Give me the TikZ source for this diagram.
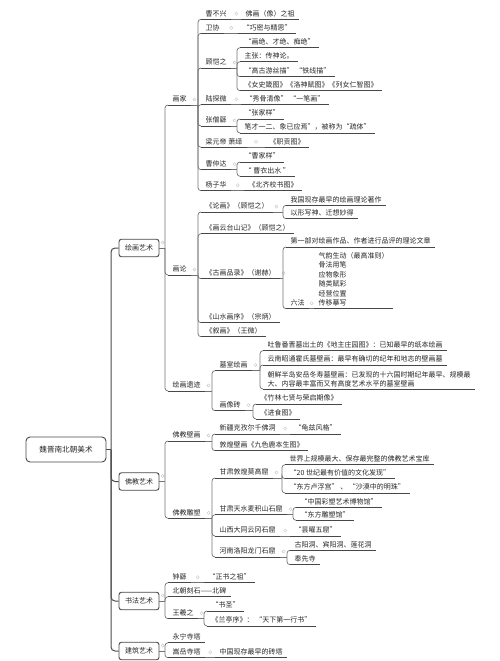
\documentclass[tikz,border=0pt]{standalone}
\usepackage{fontspec}
\setmainfont{Noto Sans CJK SC}
\usetikzlibrary{calc}
\newcommand\fanout[3]{%
  \draw[con] (#1) -- (#2,0 |- #1);
  \draw[dotc] ([shift={(3.2,-5.5)}]#1) circle[radius=1.6];
  \foreach \ch in {#3}{\draw[con] (#2,0 |- #1) |- (\ch.south west);}
}
\newcommand\single[2]{%
  \draw[con] (#1.south east) -- (#2.south west);
  \draw[dotc] ($(#1.south east)!0.5!(#2.south west)+(0,-5.5)$) circle[radius=1.6];
}
\begin{document}
\begin{tikzpicture}[x=1pt,y=-1pt,
  uline/.style={draw=black!72,line width=0.8pt},
  t/.style={font=\fontsize{7}{8.5}\selectfont,text=black!85,inner xsep=4.5pt,inner ysep=2pt,
    text height=5.6pt,text depth=1pt,anchor=south west,
    append after command={(\tikzlastnode.south west) edge[uline] (\tikzlastnode.south east)}},
  tm/.style={font=\fontsize{7}{#1}\selectfont,text=black!85,inner xsep=4.5pt,inner ysep=2pt,
    align=left,anchor=south west,
    append after command={(\tikzlastnode.south west) edge[uline] (\tikzlastnode.south east)}},
  con/.style={draw=black!55,line width=0.7pt,rounded corners=3pt},
  rootcon/.style={draw=black!70,line width=1pt,rounded corners=4pt},
  dotc/.style={draw=black!22,line width=0.4pt},
  box/.style={draw=black!72,line width=0.9pt,rounded corners=2.5pt,font=\fontsize{7}{8}\selectfont,
    text=black!85,minimum width=40pt,minimum height=17.5pt,inner sep=0pt},
  rootbox/.style={draw=black!72,line width=0.9pt,rounded corners=4pt,font=\fontsize{7.6}{9}\selectfont,
    text=black!85,minimum width=80pt,minimum height=25pt,inner sep=0pt},
]
\useasboundingbox (0,0) rectangle (500,661);

% root and level 1
\node[rootbox] (root) at (66,449.5) {魏晋南北朝美术};
\node[box] (L1) at (139,248) {绘画艺术};
\node[box] (L2) at (139,481.5) {佛教艺术};
\node[box] (L3) at (139,601) {书法艺术};
\node[box] (L4) at (139,651) {建筑艺术};

% level 2
\node[t] (p1) at (168,105) {画家};
\node[t] (p2) at (168,275) {画论};
\node[t] (p3) at (168,391) {绘画遗迹};
\node[t] (q1) at (168,441) {佛教壁画};
\node[t] (q2) at (168,518.3) {佛教雕塑};
\node[t] (f1) at (168,582.7) {钟繇};
\node[t] (f2) at (168,596.7) {北朝刻石——北碑};
\node[t] (f3) at (168,618.7) {王羲之};
\node[t] (g1) at (168,642.7) {永宁寺塔};
\node[t] (g2) at (168,657.7) {嵩岳寺塔};

% 画家
\node[t] (a1) at (201,19.3) {曹不兴};
\node[t] (a1c) at (241,19.3) {佛画（像）之祖};
\node[t] (a2) at (201,33.3) {卫协};
\node[t] (a2c) at (238,33.3) {“巧密与精思”};
\node[t] (a3) at (201,68) {顾恺之};
\node[t] (a31) at (240,47.7) {“画绝、才绝、痴绝”};
\node[t] (a32) at (240,61.7) {主张：传神论。};
\node[t] (a33) at (240,76.7) {“高古游丝描” “铁线描”};
\node[t] (a34) at (240,90.7) {《女史箴图》《洛神赋图》《列女仁智图》};
\node[t] (a4) at (201,104.7) {陆探微};
\node[t] (a4c) at (241,104.7) {“秀骨清像” “一笔画”};
\node[t] (a5) at (201,126) {张僧繇};
\node[t] (a51) at (240,119) {“张家样”};
\node[t] (a52) at (240,133) {笔才一二、象已应焉”，被称为“疏体”};
\node[t] (a6) at (201,147.3) {梁元帝 萧绎};
\node[t] (a6c) at (265,147.3) {《职贡图》};
\node[t] (a7) at (201,169.7) {曹仲达};
\node[t] (a71) at (240,162) {“曹家样”};
\node[t] (a72) at (240,176.3) {“ 曹衣出水 ”};
\node[t] (a8) at (201,190.7) {杨子华};
\node[t] (a8c) at (244,190.7) {《北齐校书图》};

% 画论
\node[t] (b1) at (201,212) {《论画》（顾恺之）};
\node[t] (b11) at (286,205.3) {我国现存最早的绘画理论著作};
\node[t] (b12) at (286,218.7) {以形写神、迁想妙得};
\node[t] (b2) at (201,233.7) {《画云台山记》（顾恺之）};
\node[t] (b3) at (201,278.7) {《古画品录》（谢赫）};
\node[t] (b31) at (286,247) {第一部对绘画作品、作者进行品评的理论文章};
\node[t] (b32) at (286,308.7) {六法};
\node[tm=9.5] (b32c) at (314,308.7) {气韵生动（最高准则）\\骨法用笔\\应物象形\\随类赋彩\\经营位置\\传移摹写};
\node[t] (b4) at (201,322.7) {《山水画序》（宗炳）};
\node[t] (b5) at (201,336.7) {《叙画》（王微）};

% 绘画遗迹
\node[t] (c1) at (215,370.7) {墓室绘画};
\node[t] (c11) at (263,350.7) {吐鲁番晋墓出土的《地主庄园图》：已知最早的纸本绘画};
\node[t] (c12) at (263,365) {云南昭通霍氏墓壁画：最早有确切的纪年和地志的壁画墓};
\node[tm=8.5] (c13) at (263,389) {朝鲜半岛安岳冬寿墓壁画：已发现的十六国时期纪年最早、规模最\\大、内容最丰富而又有高度艺术水平的墓室壁画};
\node[t] (c2) at (215,410.7) {画像砖};
\node[t] (c21) at (256,404) {《竹林七贤与荣启期像》};
\node[t] (c22) at (256,419) {《进食图》};

% 佛教壁画
\node[t] (d1) at (215,434) {新疆克孜尔千佛洞};
\node[t] (d1c) at (290,434) {“龟兹风格”};
\node[t] (d2) at (215,450.7) {敦煌壁画《九色鹿本生图》};

% 佛教雕塑
\node[t] (e1) at (215,478) {甘肃敦煌莫高窟};
\node[t] (e11) at (285,464.7) {世界上规模最大、保存最完整的佛教艺术宝库};
\node[t] (e12) at (285,478.7) {“20 世纪最有价值的文化发现”};
\node[t] (e13) at (285,493) {“东方卢浮宫” 、 “沙漠中的明珠”};
\node[t] (e2) at (215,514.7) {甘肃天水麦积山石窟};
\node[t] (e21) at (296,507.3) {“中国彩塑艺术博物馆”};
\node[t] (e22) at (296,520.3) {“东方雕塑馆”};
\node[t] (e3) at (215,536) {山西大同云冈石窟};
\node[t] (e3c) at (290,536) {“昙曜五窟”};
\node[t] (e4) at (215,557) {河南洛阳龙门石窟};
\node[t] (e41) at (290,550.3) {古阳洞、宾阳洞、莲花洞};
\node[t] (e42) at (290,564.7) {奉先寺};

% 书法艺术
\node[t] (f1c) at (204,582.7) {“正书之祖”};
\node[t] (f31) at (207,611) {“书圣”};
\node[t] (f32) at (207,626) {《兰亭序》： “天下第一行书”};

% 建筑艺术
\node[t] (g2c) at (215,657.7) {中国现存最早的砖塔};

% root connectors
\draw[rootcon] (root.east) -- (111,0 |- root.east);
\foreach \ch in {L1,L2,L3,L4}{\draw[rootcon] (111,0 |- root.east) |- (\ch.west);}

% level-1 connectors
\fanout{L1.east}{165}{p1,p2,p3}
\fanout{L2.east}{165}{q1,q2}
\fanout{L3.east}{165}{f1,f2,f3}
\fanout{L4.east}{165}{g1,g2}

% deeper connectors
\fanout{p1.south east}{198}{a1,a2,a3,a4,a5,a6,a7,a8}
\fanout{a3.south east}{237}{a31,a32,a33,a34}
\fanout{a5.south east}{237}{a51,a52}
\fanout{a7.south east}{237}{a71,a72}
\fanout{p2.south east}{198}{b1,b2,b3,b4,b5}
\fanout{b1.south east}{283}{b11,b12}
\fanout{b3.south east}{283}{b31,b32}
\fanout{p3.south east}{212}{c1,c2}
\fanout{c1.south east}{260}{c11,c12,c13}
\fanout{c2.south east}{253}{c21,c22}
\fanout{q1.south east}{212}{d1,d2}
\fanout{q2.south east}{212}{e1,e2,e3,e4}
\fanout{e1.south east}{282}{e11,e12,e13}
\fanout{e2.south east}{293}{e21,e22}
\fanout{e4.south east}{287}{e41,e42}
\fanout{f3.south east}{204}{f31,f32}

\single{a1}{a1c}
\single{a2}{a2c}
\single{a4}{a4c}
\single{a6}{a6c}
\single{a8}{a8c}
\single{b32}{b32c}
\single{d1}{d1c}
\single{e3}{e3c}
\single{f1}{f1c}
\single{g2}{g2c}
\end{tikzpicture}
\end{document}
